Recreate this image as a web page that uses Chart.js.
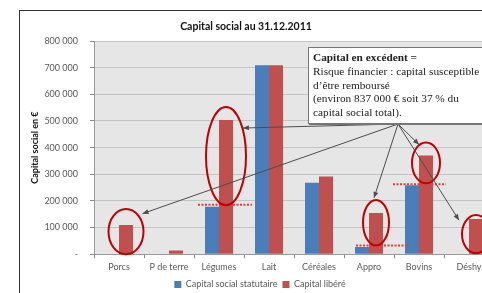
<!DOCTYPE html>
<html><head><meta charset="utf-8">
<script src="https://cdn.jsdelivr.net/npm/chart.js@4"></script>
<style>
html,body{margin:0;padding:0;background:#fff;}
#wrap{position:relative;width:482px;height:293px;overflow:hidden;background:#fff;}
#frame{position:absolute;left:19px;top:10px;width:600px;height:400px;border:1px solid #333;box-sizing:border-box;}
#cv{position:absolute;left:0;top:0;width:524px;height:299px;}
#title{position:absolute;left:0;width:492px;top:20px;text-align:center;font:bold 10.5px Lato,"Open Sans",sans-serif;color:#111;}
#note{position:absolute;left:308px;top:47px;width:200px;height:77px;background:#fff;border:1px solid #777;box-shadow:1px 1px 0 #777;font:11.3px "Liberation Serif",serif;line-height:13.75px;padding:3px 4px;box-sizing:border-box;color:#222;white-space:nowrap;}
</style></head>
<body>
<div id="wrap">
  <div id="frame"></div>
  <div id="cv"><canvas id="c" width="524" height="299"></canvas></div>
  <div id="title">Capital social au 31.12.2011</div>
  <div id="note"><b>Capital en excédent =</b><br>Risque financier : capital susceptible<br>d’être remboursé<br>(environ 837 000 € soit 37 % du<br>capital social total).</div>
</div>
<script>
const categories = ['Porcs','P de terre','Légumes','Lait','Céréales','Appro','Bovins','Déshy'];
const statutaire = [0, 0, 178000, 709000, 268000, 27000, 259000, 0];
const libere = [110000, 14000, 504000, 709000, 292000, 155000, 370000, 132000];
const seriesNames = ['Capital social statutaire','Capital libéré'];
const yTicks = [0,100000,200000,300000,400000,500000,600000,700000,800000];

const bgPlugin = {id:'bg', beforeDraw(chart){const {ctx, chartArea:a}=chart; ctx.save(); ctx.fillStyle='#e6e6e6'; ctx.fillRect(a.left,a.top,a.right-a.left,a.bottom-a.top); ctx.restore();}};

const calloutPlugin = {
 id:'callouts',
 afterDatasetsDraw(chart, args, opts){
  const ctx=chart.ctx, y=chart.scales.y, x=chart.scales.x;
  const red=chart.getDatasetMeta(1).data;
  ctx.save();
  opts.thresholds.forEach(t=>{
    const cx=x.getPixelForValue(t.cat); const yy=y.getPixelForValue(statutaire[t.cat]) + t.dy;
    ctx.strokeStyle='#e23b3b'; ctx.lineWidth=2; ctx.setLineDash([2,1.5]);
    ctx.beginPath(); ctx.moveTo(cx+t.from, yy); ctx.lineTo(cx+t.to, yy); ctx.stroke();
  });
  ctx.setLineDash([]);
  const ends=[];
  opts.ellipses.forEach(e=>{
    const bar=red[e.cat]; const top=y.getPixelForValue(libere[e.cat])-e.padTop; const bot=y.getPixelForValue(statutaire[e.cat])+e.padBot;
    const cx=bar.x, cy=(top+bot)/2, ry=(bot-top)/2;
    ctx.strokeStyle='#c00000'; ctx.lineWidth=2;
    ctx.beginPath(); ctx.ellipse(cx,cy,e.rx,ry,0,0,Math.PI*2); ctx.stroke();
    const a=e.arrowA*Math.PI/180;
    ends.push([cx+e.rx*e.arrowK*Math.cos(a), cy+ry*e.arrowK*Math.sin(a)]);
  });
  const [ox,oy]=opts.origin;
  ctx.strokeStyle='#4d4d4d'; ctx.fillStyle='#4d4d4d'; ctx.lineWidth=1;
  ends.forEach(([ex,ey])=>{
    ctx.beginPath(); ctx.moveTo(ox,oy); ctx.lineTo(ex,ey); ctx.stroke();
    const ang=Math.atan2(ey-oy, ex-ox), L=6, W=2.5;
    ctx.beginPath(); ctx.moveTo(ex,ey);
    ctx.lineTo(ex - L*Math.cos(ang) + W*Math.sin(ang), ey - L*Math.sin(ang) - W*Math.cos(ang));
    ctx.lineTo(ex - L*Math.cos(ang) - W*Math.sin(ang), ey - L*Math.sin(ang) + W*Math.cos(ang));
    ctx.closePath(); ctx.fill();
  });
  ctx.restore();
 }
};

const fmt = v => v===0 ? '-' : String(v).replace(/\B(?=(\d{3})+(?!\d))/g,' ');

new Chart(document.getElementById('c'), {
  type:'bar',
  data:{labels:categories, datasets:[
    {label:seriesNames[0], data:statutaire, backgroundColor:'#4a7ebb', categoryPercentage:0.56, barPercentage:1},
    {label:seriesNames[1], data:libere, backgroundColor:'#c0504d', categoryPercentage:0.56, barPercentage:1}
  ]},
  options:{
    responsive:false, animation:false, devicePixelRatio:1,
    layout:{padding:{left:26, top:41, right:30, bottom:0}},
    plugins:{
      title:{display:false},
      tooltip:{enabled:false},
      legend:{position:'bottom', labels:{boxWidth:7, boxHeight:7, padding:5, color:'#595959', font:{family:'Lato', size:9}}},
      callouts:{
        origin:[398,124],
        thresholds:[{cat:2, from:-21, to:33, dy:-2},{cat:5, from:-13, to:40, dy:-1.5},{cat:6, from:-26, to:27, dy:-1}],
        ellipses:[
          {cat:0, rx:17.5, padTop:16, padBot:0, arrowA:-40, arrowK:1.23},
          {cat:2, rx:20, padTop:13, padBot:-1.5, arrowA:-34, arrowK:1.02},
          {cat:5, rx:13, padTop:13, padBot:-1.5, arrowA:-98, arrowK:1.1},
          {cat:6, rx:14, padTop:13, padBot:-2, arrowA:-119, arrowK:1.03},
          {cat:7, rx:14, padTop:4, padBot:-1, arrowA:-149, arrowK:1.42}
        ]
      }
    },
    scales:{
      x:{
        grid:{drawOnChartArea:false, tickLength:4, tickColor:'#888', offset:true},
        border:{color:'#999'},
        ticks:{color:'#595959', font:{family:'Lato', size:9}, padding:3}
      },
      y:{
        min:0, max:800000,
        afterFit(s){ s.width = 68; },
        afterBuildTicks(s){ s.ticks = yTicks.map(v=>({value:v})); },
        grid:{color:'#c4c4c4', tickLength:4, tickColor:'#888'},
        border:{color:'#999'},
        ticks:{color:'#595959', font:{family:'Lato', size:9}, padding:12, callback:fmt},
        title:{display:true, text:'Capital social en €', color:'#111', font:{family:'Lato', size:9, weight:'bold'}}
      }
    }
  },
  plugins:[bgPlugin, calloutPlugin]
});
</script>
</body></html>
